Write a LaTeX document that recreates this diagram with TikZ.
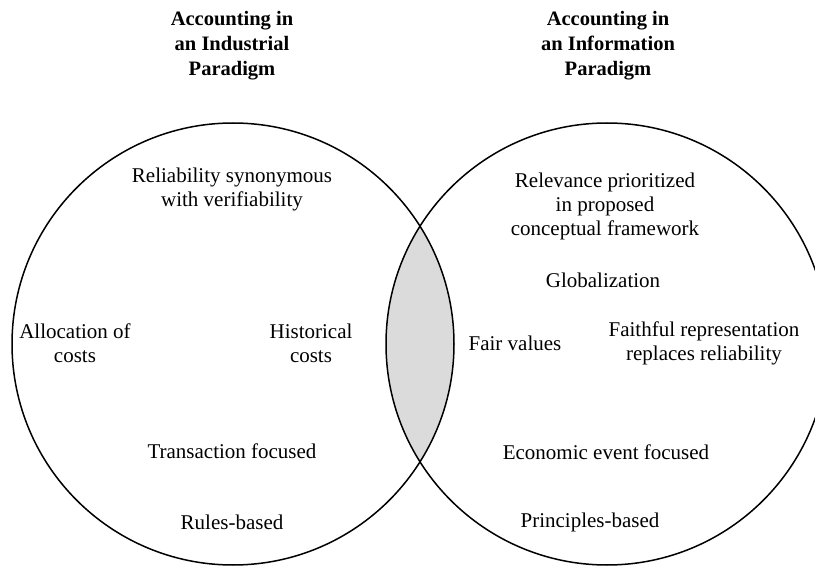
\documentclass[tikz,border=0pt]{standalone}
\usepackage{fontspec}
\setmainfont{Liberation Serif}
\begin{document}
\begin{tikzpicture}[x=1pt,y=-1pt,
  ring/.style={draw=black,line width=1.5pt},
  body/.style={align=center,inner sep=0pt,font=\fontsize{21}{24}\selectfont},
  heading/.style={align=center,inner sep=0pt,font=\fontsize{20.5}{25}\selectfont\bfseries}]
  \useasboundingbox (0,0) rectangle (815,567);
  \clip (0,0) rectangle (815,567);
  \coordinate (cL) at (233,344);
  \coordinate (cR) at (607,344);
  % shared region of the two sets
  \begin{scope}
    \clip (cL) circle (221);
    \fill[gray!28] (cR) circle (221);
  \end{scope}
  \draw[ring] (cL) circle (221);
  \draw[ring] (cR) circle (221);
  % headings
  \node[heading] (tL) at (232,46) {Accounting in\\an Industrial\\Paradigm};
  \node[heading] (tR) at (608,46) {Accounting in\\an Information\\Paradigm};
  % industrial paradigm
  \node[body] (rel) at (232,189) {Reliability synonymous\\with verifiability};
  \node[body] (alloc) at (75,343) {Allocation of\\costs};
  \node[body] (hist) at (311,343) {Historical\\costs};
  \node[body] (trans) at (232,451) {Transaction focused};
  \node[body] (rules) at (232,522) {Rules-based};
  % information paradigm
  \node[body] (relev) at (605,206) {Relevance prioritized\\in proposed\\conceptual framework};
  \node[body] (glob) at (603,280) {Globalization};
  \node[body] (fair) at (515,343) {Fair values};
  \node[body] (faith) at (704,343) {Faithful representation\\replaces reliability};
  \node[body] (econ) at (606,452) {Economic event focused};
  \node[body] (princ) at (590,522) {Principles-based};
\end{tikzpicture}
\end{document}
